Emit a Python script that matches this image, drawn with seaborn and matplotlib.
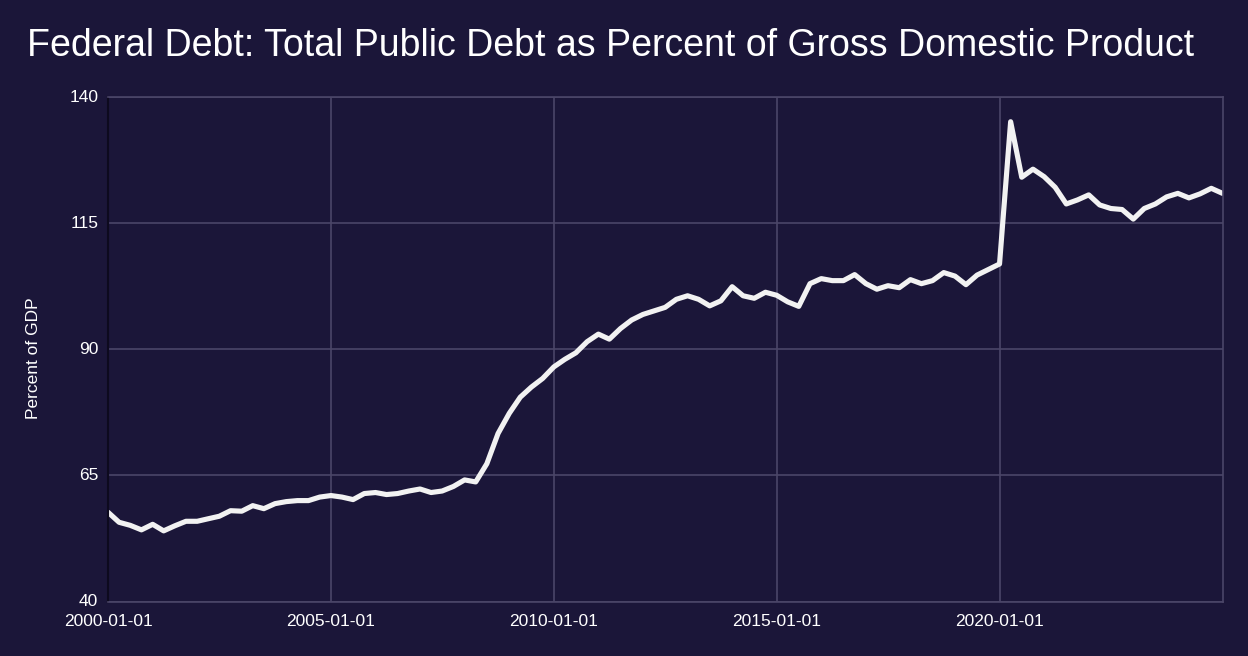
import pandas as pd
import numpy as np
import seaborn as sns
import matplotlib.pyplot as plt
import matplotlib.dates as mdates

# quarterly, 2000Q1 .. 2025Q1
START = '2000-01-01'
END = '2025-01-01'
DEBT_PCT = [
    57.7, 55.7, 55.1, 54.2, 55.3, 54.0, 55.0, 55.9,
    55.9, 56.4, 56.9, 58.0, 57.9, 59.0, 58.4, 59.4,
    59.8, 60.0, 60.0, 60.7, 61.0, 60.7, 60.2, 61.4,
    61.6, 61.2, 61.4, 61.9, 62.3, 61.6, 61.9, 62.8,
    64.1, 63.7, 67.3, 73.3, 77.3, 80.5, 82.5, 84.2,
    86.5, 88.0, 89.3, 91.5, 93.0, 92.0, 94.1, 95.8,
    96.9, 97.6, 98.3, 99.9, 100.6, 99.9, 98.6, 99.6,
    102.4, 100.6, 100.1, 101.3, 100.7, 99.4, 98.5, 103.0,
    104.0, 103.6, 103.6, 104.8, 103.0, 101.9, 102.6, 102.2,
    103.8, 103.0, 103.6, 105.2, 104.5, 102.8, 104.7, 105.8,
    106.9, 135.1, 124.1, 125.7, 124.2, 122.1, 118.8, 119.6,
    120.6, 118.6, 117.9, 117.7, 115.8, 117.9, 118.8, 120.2,
    120.9, 120.0, 120.8, 121.9, 120.9,
]
Y_TICKS = [40, 65, 90, 115, 140]
X_TICKS = ['2000-01-01', '2005-01-01', '2010-01-01', '2015-01-01', '2020-01-01']

BG = '#1b1639'
GRID = '#4b4668'

df = pd.DataFrame({'date': pd.date_range(START, END, freq='QS'),
                   'debt': DEBT_PCT})

sns.set_theme(style='dark')
plt.rcParams['font.family'] = ['Liberation Sans', 'DejaVu Sans']

fig = plt.figure(figsize=(12.48, 6.56), dpi=100, facecolor=BG)
ax = fig.add_axes([108 / 1248, 1 - 601.5 / 656, (1222.5 - 108) / 1248, (601.5 - 97) / 656])
ax.set_facecolor(BG)

sns.lineplot(data=df, x='date', y='debt', ax=ax, color='#f2f2f2', linewidth=3.7)

ax.set_xlim(pd.Timestamp(START), pd.Timestamp(END))
ax.set_ylim(40, 140)
ax.set_yticks(Y_TICKS)
ax.set_xticks(pd.to_datetime(X_TICKS))
ax.xaxis.set_major_formatter(mdates.DateFormatter('%Y-%m-%d'))

ax.grid(True, color=GRID, linewidth=1.2)
ax.tick_params(colors='white', labelsize=12.5, length=0)
ax.tick_params(axis='y', pad=7)
ax.tick_params(axis='x', pad=9)
for lab in ax.get_yticklabels():
    lab.set_verticalalignment('center')

for side in ['top', 'right', 'bottom']:
    ax.spines[side].set_visible(True)
    ax.spines[side].set_color(GRID)
    ax.spines[side].set_linewidth(1.2)
ax.spines['left'].set_color('#0d0a1e')
ax.spines['left'].set_linewidth(1.5)

ax.set_xlabel('')
ax.set_ylabel('')
fig.text(33.5 / 1248, 1 - 358 / 656, 'Percent of GDP', color='white', fontsize=12.5,
         rotation=90, ha='center', va='center', rotation_mode='anchor')

fig.text(27 / 1248, 1 - 46 / 656, 'Federal Debt: Total Public Debt as Percent of Gross Domestic Product',
         color='white', fontsize=27, ha='left', va='center')

fig.savefig('out.png', dpi=100, facecolor=BG)
